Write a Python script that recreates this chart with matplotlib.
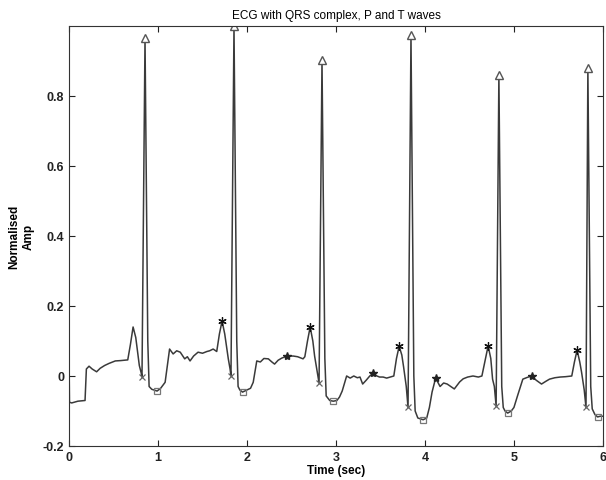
import matplotlib
matplotlib.use('Agg')
import matplotlib.pyplot as plt

plt.rcParams['font.family'] = ['Liberation Sans', 'DejaVu Sans']

# ECG trace (time in sec, normalised amplitude)
ecg_t = [0.0, 0.005, 0.03, 0.10, 0.18, 0.195, 0.225, 0.26, 0.31, 0.35, 0.40, 0.45, 0.52, 0.58, 0.66,
         0.69, 0.72, 0.75, 0.79, 0.81, 0.82, 0.854, 0.885, 0.90, 0.93, 0.99, 1.03, 1.08,
         1.13, 1.17, 1.21, 1.25, 1.30, 1.33, 1.36, 1.40, 1.45, 1.50, 1.55, 1.58, 1.62, 1.66,
         1.69, 1.72, 1.75, 1.79, 1.81, 1.82, 1.854, 1.885, 1.90, 1.92, 1.95, 2.0, 2.04, 2.07,
         2.11, 2.15, 2.19, 2.24, 2.28, 2.31, 2.35, 2.39, 2.45, 2.52, 2.57, 2.63, 2.65,
         2.68, 2.71, 2.74, 2.76, 2.79, 2.81, 2.843, 2.875, 2.89, 2.93, 2.97, 3.01, 3.04, 3.07,
         3.12, 3.16, 3.20, 3.24, 3.27, 3.30, 3.34, 3.38, 3.42, 3.46, 3.49, 3.53, 3.57, 3.61, 3.65,
         3.68, 3.71, 3.74, 3.76, 3.79, 3.81, 3.843, 3.875, 3.89, 3.92, 3.98, 4.02, 4.05, 4.08,
         4.12, 4.17, 4.21, 4.25, 4.29, 4.33, 4.39, 4.43, 4.48, 4.54, 4.60, 4.64,
         4.68, 4.71, 4.74, 4.76, 4.78, 4.80, 4.831, 4.863, 4.88, 4.90, 4.93, 4.97, 5.00, 5.04,
         5.10, 5.15, 5.20, 5.25, 5.31, 5.36, 5.40, 5.46, 5.52, 5.58, 5.65,
         5.68, 5.71, 5.74, 5.76, 5.79, 5.81, 5.831, 5.863, 5.88, 5.91, 5.94, 5.97, 6.0]
ecg_amp = [0.06, -0.075, -0.077, -0.072, -0.07, 0.02, 0.028, 0.02, 0.012, 0.022, 0.03, 0.036, 0.043, 0.044, 0.046,
           0.09, 0.14, 0.11, 0.03, 0.01, -0.003, 0.966, 0.1, -0.03, -0.038, -0.043, -0.035, -0.018,
           0.077, 0.063, 0.072, 0.068, 0.049, 0.055, 0.043, 0.057, 0.068, 0.065, 0.07, 0.072, 0.077, 0.07,
           0.12, 0.157, 0.12, 0.049, 0.02, 0.0, 1.0, 0.1, -0.03, -0.04, -0.046, -0.04, -0.035, -0.018,
           0.043, 0.04, 0.05, 0.049, 0.04, 0.034, 0.045, 0.051, 0.057, 0.057, 0.055, 0.049, 0.055,
           0.10, 0.14, 0.10, 0.057, 0.01, -0.02, 0.903, 0.05, -0.057, -0.07, -0.072, -0.07, -0.06, -0.043,
           0.0, -0.006, 0.0, -0.005, -0.003, -0.023, -0.012, 0.0, 0.008, 0.0, -0.003, -0.003, -0.006, -0.003, 0.0,
           0.05, 0.085, 0.06, 0.026, -0.03, -0.09, 0.974, 0.0, -0.1, -0.12, -0.125, -0.12, -0.09, -0.046,
           -0.006, -0.03, -0.02, -0.023, -0.03, -0.037, -0.017, -0.008, -0.003, 0.0, -0.003, 0.0,
           0.05, 0.086, 0.05, -0.009, -0.03, -0.086, 0.86, -0.03, -0.09, -0.1, -0.106, -0.1, -0.09, -0.057,
           -0.009, -0.004, 0.0, -0.012, -0.023, -0.015, -0.009, -0.005, -0.003, -0.002, 0.0,
           0.04, 0.074, 0.04, 0.011, -0.04, -0.09, 0.88, -0.03, -0.094, -0.11, -0.117, -0.115, -0.115]

# detected points
r_t = [0.854, 1.854, 2.843, 3.843, 4.831, 5.831]
r_amp = [0.966, 1.0, 0.903, 0.974, 0.86, 0.88]
q_t = [0.82, 1.82, 2.81, 3.81, 4.80, 5.81]
q_amp = [-0.003, 0.0, -0.02, -0.09, -0.086, -0.09]
s_t = [0.99, 1.95, 2.97, 3.98, 4.93, 5.94]
s_amp = [-0.043, -0.046, -0.072, -0.125, -0.106, -0.117]
p_t = [1.72, 2.71, 3.71, 4.71, 5.71]
p_amp = [0.157, 0.14, 0.085, 0.086, 0.074]
tw_t = [2.45, 3.42, 4.12, 5.20]
tw_amp = [0.057, 0.008, -0.006, 0.0]

fig = plt.figure(figsize=(6.06, 4.81), dpi=100)
ax = fig.add_axes([0.1139, 0.0707, 0.881, 0.8732])

ax.plot(ecg_t, ecg_amp, color='#3a3a3a', lw=1.1)
ax.plot(r_t, r_amp, '^', ms=6, mfc='white', mec='#555555', mew=1.0)
ax.plot(q_t, q_amp, 'x', ms=4.5, color='#666666', mew=0.9)
ax.plot(s_t, s_amp, 's', ms=4.5, mfc='none', mec='#777777', mew=0.9)
ax.plot(p_t, p_amp, marker=(6, 2, 0), ls='none', ms=6, color='#111111', mew=0.9)
ax.plot(tw_t, tw_amp, '*', ms=6, color='#222222')

ax.set_xlim(0, 6)
ax.set_ylim(-0.2, 1.0)
ax.set_xticks([0, 1, 2, 3, 4, 5, 6])
ax.set_yticks([-0.2, 0, 0.2, 0.4, 0.6, 0.8])
ax.set_yticklabels(['-0.2', '0', '0.2', '0.4', '0.6', '0.8'])
ax.tick_params(direction='in', top=True, right=True, length=4, width=0.8,
               labelsize=9, colors='#222222')
for lab in ax.get_xticklabels() + ax.get_yticklabels():
    lab.set_fontweight('bold')
for sp in ax.spines.values():
    sp.set_color('#333333')
    sp.set_linewidth(0.8)

ax.set_title('ECG with QRS complex, P and T waves', fontsize=8.5, pad=6)
ax.set_xlabel('Time (sec)', fontsize=8.5, labelpad=1, fontweight='bold')
ax.set_ylabel('Normalised\nAmp', fontsize=8.5, labelpad=6, fontweight='bold')

fig.savefig('out.png', dpi=100)
